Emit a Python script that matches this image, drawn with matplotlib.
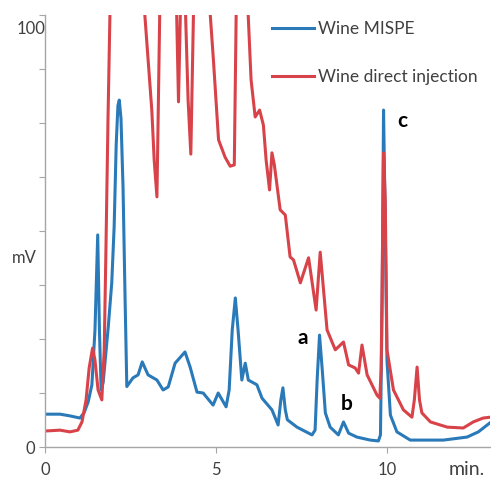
import matplotlib
matplotlib.use('Agg')
import matplotlib.pyplot as plt

plt.rcParams['font.family'] = ['Lato', 'DejaVu Sans']

# Wine MISPE trace (time in min, signal in mV)
mispe_t = [0, 0.44, 0.73, 1.02, 1.14, 1.26, 1.37, 1.46, 1.54, 1.59, 1.64, 1.70, 1.85, 1.95,
           2.02, 2.08, 2.13, 2.17, 2.22, 2.28, 2.34, 2.39, 2.57, 2.72, 2.84, 3.01, 3.27, 3.45, 3.60,
           3.80, 4.09, 4.24, 4.44, 4.62, 4.91, 5.06, 5.29, 5.38, 5.47, 5.56, 5.64, 5.75, 5.85,
           5.94, 6.19, 6.34, 6.63, 6.81, 6.89, 6.95, 7.02, 7.08, 7.36, 7.80, 7.89, 7.95, 8.02,
           8.10, 8.19, 8.33, 8.57, 8.72, 8.87, 9.11, 9.50, 9.74, 9.80, 9.85, 9.89, 9.93, 9.99,
           10.09, 10.28, 10.67, 11.64, 12.33, 12.66, 13.0]
mispe_mv = [7.6, 7.6, 7.2, 6.7, 7.9, 10.4, 14.4, 27.1, 49.1, 27.1, 13.2, 15.0, 28.0, 38.0,
            51.0, 70.0, 79.0, 80.3, 76.0, 60.0, 34.0, 14.0, 16.0, 16.7, 19.7, 16.7, 15.5, 13.2, 13.9,
            19.4, 22.0, 18.5, 12.7, 12.5, 9.7, 12.5, 9.3, 13.2, 27.1, 34.5, 27.1, 15.5, 19.4,
            15.5, 14.4, 11.3, 8.6, 5.1, 10.9, 13.7, 8.6, 6.3, 4.6, 2.8, 3.9, 15.5, 25.9,
            17.8, 7.9, 4.6, 2.8, 5.8, 3.2, 2.3, 1.6, 1.4, 2.8, 34.0, 78.0, 57.2, 20.1,
            7.4, 3.5, 1.6, 1.6, 2.3, 3.5, 5.6]

# Wine direct injection trace
direct_t = [0, 0.44, 0.73, 0.96, 1.08, 1.20, 1.29, 1.39, 1.46, 1.55, 1.66, 1.73, 1.78, 1.84,
            1.92, 2.4, 2.87, 3.12, 3.19, 3.27, 3.30, 3.37, 3.6, 3.82, 3.90, 3.98, 4.07, 4.18,
            4.26, 4.36, 4.55, 4.74, 4.92, 5.07, 5.26, 5.41, 5.53, 5.60, 5.75, 5.88, 6.02, 6.14,
            6.27, 6.38, 6.46, 6.56, 6.63, 6.70, 6.87, 7.02, 7.16, 7.26, 7.46, 7.70, 7.92, 8.04,
            8.24, 8.48, 8.72, 8.87, 9.06, 9.16, 9.26, 9.41, 9.70, 9.78, 9.82, 9.89, 9.94, 9.99,
            10.18, 10.47, 10.72, 10.79, 10.87, 10.94, 11.01, 11.26, 11.75, 12.22, 12.51, 12.80, 13.0]
direct_mv = [3.7, 3.9, 3.5, 3.9, 5.8, 10.9, 18.3, 22.9, 20.1, 13.2, 10.9, 22.5, 45.6, 75.7,
             110, 130, 105, 78.0, 66.4, 57.9, 73.4, 110, 130, 110, 79.9, 110, 110, 80.3,
             67.8, 110, 130, 110, 89.6, 71.1, 67.1, 65.0, 65.3, 110, 130, 110, 85.0, 76.4,
             78.0, 74.5, 66.4, 59.5, 68.1, 65.3, 54.9, 53.7, 44.0, 43.3, 38.0, 43.8, 31.7, 45.1,
             27.1, 22.5, 24.3, 19.0, 18.3, 17.1, 23.6, 16.7, 12.0, 11.3, 17.8, 68.1, 57.2, 22.5,
             13.2, 8.6, 6.9, 10.9, 18.5, 10.9, 7.9, 5.8, 4.6, 4.4, 5.8, 6.7, 6.9]

# peak labels
peak_names = ['a', 'b', 'c']
peak_x = [7.54, 8.80, 10.44]
peak_y = [25.2, 10.0, 75.5]

blue = '#2a7ab9'
red = '#d8434a'
grey_txt = '#404040'
grey_ax = '#a6a6a6'

fig = plt.figure(figsize=(4.91, 4.79), dpi=100)
ax = fig.add_axes([45 / 491, 32 / 479, 445 / 491, 432 / 479])

ax.plot(mispe_t, mispe_mv, color=blue, lw=2.2, label='Wine MISPE', solid_joinstyle='round')
ax.plot(direct_t, direct_mv, color=red, lw=2.2, label='Wine direct injection', solid_joinstyle='round')

ax.set_xlim(0, 13)
ax.set_ylim(0, 100)

for s in ['top', 'right']:
    ax.spines[s].set_visible(False)
for s in ['left', 'bottom']:
    ax.spines[s].set_color(grey_ax)
    ax.spines[s].set_linewidth(1.0)

ax.set_xticks([0, 5, 10])
ax.set_xticklabels(['0', '5', '10'])
ax.set_yticks([i * 12.5 for i in range(9)])
ax.set_yticklabels([])
ax.tick_params(axis='x', colors=grey_ax, labelcolor=grey_txt, length=4, pad=7, labelsize=12)
ax.tick_params(axis='y', colors=grey_ax, length=4)

ax.text(-0.3, -0.5, '0', ha='right', va='center', fontsize=12, color=grey_txt)
ax.text(0.0, 96.8, '100', ha='right', va='center', fontsize=12, color=grey_txt)
fig.text(24 / 491, 1 - 258 / 479, 'mV', ha='center', va='center', fontsize=12, color=grey_txt)
ax.text(12.31, -0.033, 'min.', ha='center', va='top', fontsize=14, color=grey_txt,
        transform=ax.get_xaxis_transform())

for name, px, py in zip(peak_names, peak_x, peak_y):
    ax.text(px, py, name, ha='center', va='center', fontsize=15, fontweight='bold', color='black')

fig.legend(loc='upper left', bbox_to_anchor=(272 / 491, 1 - 21 / 479), frameon=False,
           fontsize=12.5, handlelength=2.4, handletextpad=0.25, labelspacing=1.85,
           borderpad=0, borderaxespad=0, labelcolor=grey_txt)

fig.savefig('out.png', dpi=100)
